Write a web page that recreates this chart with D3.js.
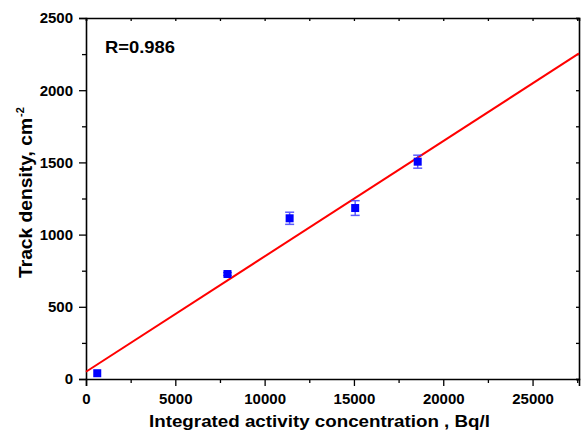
<!DOCTYPE html>
<html><head><meta charset="utf-8">
<script src="https://cdn.jsdelivr.net/npm/d3@7"></script>
<style>
body{margin:0;background:#fff;}
text{font-family:"Liberation Sans",Arial,sans-serif;font-weight:bold;}
</style></head>
<body>
<svg id="c" width="583" height="432"></svg>
<script>
const xValues = [630, 7920, 11400, 15070, 18570];
const yValues = [40, 727, 1113, 1184, 1505];
const yErrors = [0, 10, 42, 51, 45];
const fitX = [0, 27600];
const fitY = [50, 2255];
const xTicks = [0, 5000, 10000, 15000, 20000, 25000];
const yTicks = [0, 500, 1000, 1500, 2000, 2500];
const rLabel = "R=0.986";

const svg = d3.select("#c");
const m = {l:86, r:579, t:18, b:379};
const x = d3.scaleLinear().domain([0, 27600]).range([m.l, m.r]);
const y = d3.scaleLinear().domain([0, 2500]).range([m.b, m.t]);

const axisColor = "#000";
const xMinor = d3.range(2500, 27600, 5000);
const yMinor = d3.range(250, 2500, 500);

svg.append("g").attr("transform",`translate(0,${m.b})`)
  .call(d3.axisBottom(x).tickValues(xTicks).tickSize(7).tickPadding(7).tickFormat(d3.format("d")));
svg.append("g").attr("transform",`translate(0,${m.b})`)
  .call(d3.axisBottom(x).tickValues(xMinor).tickSize(4).tickFormat(""))
  .select(".domain").remove();
svg.append("g").attr("transform",`translate(${m.l},0)`)
  .call(d3.axisLeft(y).tickValues(yTicks).tickSize(7).tickPadding(6).tickFormat(d3.format("d")));
svg.append("g").attr("transform",`translate(${m.l},0)`)
  .call(d3.axisLeft(y).tickValues(yMinor).tickSize(4).tickFormat(""))
  .select(".domain").remove();
svg.append("g").attr("transform",`translate(0,${m.t})`)
  .call(d3.axisTop(x).tickValues(xTicks.concat(xMinor)).tickSize(-3).tickFormat(""));
svg.append("g").attr("transform",`translate(${m.r},0)`)
  .call(d3.axisRight(y).tickValues(yTicks.concat(yMinor)).tickSize(-3).tickFormat(""));

svg.selectAll(".domain").attr("stroke", axisColor).attr("stroke-width", 1.6);
svg.selectAll(".tick line").attr("stroke", axisColor).attr("stroke-width", 1.3);
svg.selectAll(".tick text").attr("font-size", 15).attr("font-weight","bold").attr("fill","#000")
  .attr("font-family",'"Liberation Sans",Arial,sans-serif');

svg.append("path")
  .datum(fitX.map((d,i)=>[d, fitY[i]]))
  .attr("d", d3.line().x(d=>x(d[0])).y(d=>y(d[1])))
  .attr("fill","none").attr("stroke","#ff0000").attr("stroke-width",2);

const pts = xValues.map((d,i)=>({x:d, y:yValues[i], e:yErrors[i]}));
const eb = svg.append("g").attr("stroke","#3333ff").attr("stroke-width",1.5).attr("opacity",0.8);
pts.filter(p=>p.e>0).forEach(p=>{
  eb.append("line").attr("x1",x(p.x)).attr("x2",x(p.x)).attr("y1",y(p.y-p.e)).attr("y2",y(p.y+p.e));
  [p.y-p.e, p.y+p.e].forEach(v=>{
    eb.append("line").attr("x1",x(p.x)-4.5).attr("x2",x(p.x)+4.5).attr("y1",y(v)).attr("y2",y(v));
  });
});
svg.append("g").selectAll("rect").data(pts).join("rect")
  .attr("x",d=>x(d.x)-4).attr("y",d=>y(d.y)-4).attr("width",8).attr("height",8)
  .attr("fill","#0000ff");

svg.append("text").attr("x",105).attr("y",53).attr("font-size",16.5)
  .attr("textLength",70).attr("lengthAdjust","spacingAndGlyphs").attr("fill","#000").text(rLabel);

svg.append("text").attr("x",149).attr("y",426.5).attr("font-size",16.5)
  .attr("textLength",341).attr("lengthAdjust","spacingAndGlyphs")
  .attr("fill","#000").text("Integrated activity concentration , Bq/l");

const yt = svg.append("text").attr("transform","translate(32,278) rotate(-90)")
  .attr("text-anchor","start").attr("font-size",18).attr("fill","#000");
yt.append("tspan").attr("textLength",160).attr("lengthAdjust","spacingAndGlyphs").text("Track density, cm");
yt.append("tspan").attr("dy",-8).attr("dx",1).attr("font-size",11).text("-2");
</script>
</body></html>
